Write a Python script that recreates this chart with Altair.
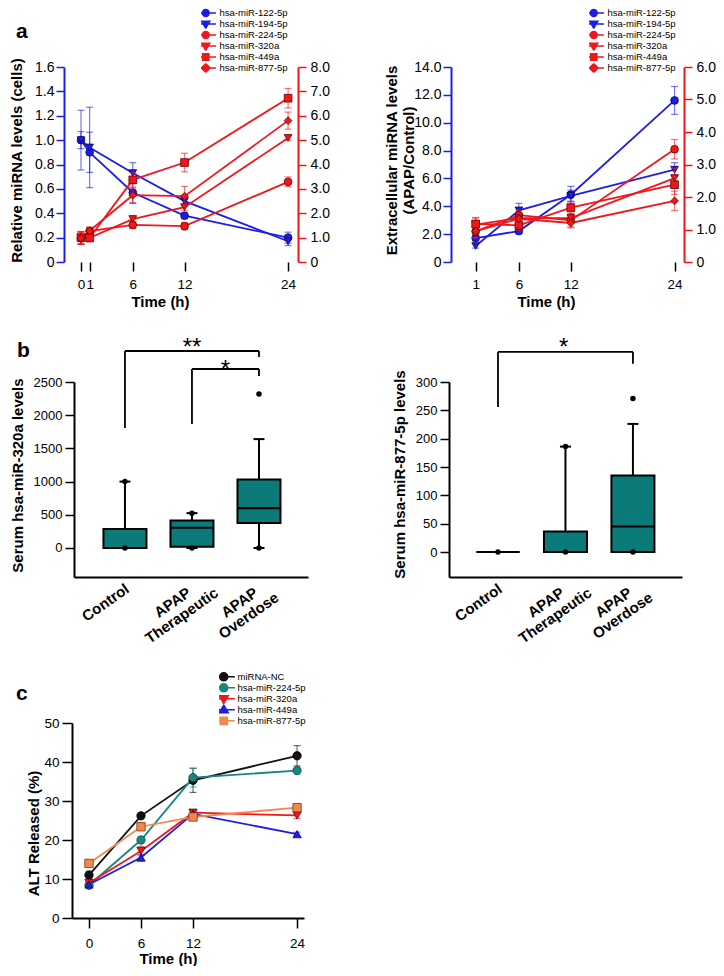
import altair as alt
import pandas as pd

FONT = "Liberation Sans"
BLUE, BLUE_D = "#1c1ee6", "#0b0b60"
RED, RED_D = "#f0171b", "#6a0000"
TEAL_BOX = "#0a7b78"

# ---------------- panel a (left): miRNA in cells ----------------
a1_time = [0, 1, 6, 12, 24]
a1_122 = [1.00, 0.90, 0.57, 0.38, 0.20]
a1_122_err = [0.07, 0.165, 0.09, 0.02, 0.045]
a1_194 = [1.00, 0.94, 0.73, 0.50, 0.17]
a1_194_err = [0.245, 0.33, 0.085, 0.03, 0.035]
a1_224 = [0.97, 1.27, 1.52, 1.47, 3.29]
a1_224_err = [0.25, 0.15, 0.15, 0.15, 0.20]
a1_320 = [1.00, 0.99, 1.76, 2.25, 5.09]
a1_320_err = [0.25, 0.15, 0.15, 0.15, 0.10]
a1_449 = [1.00, 0.99, 3.37, 4.08, 6.72]
a1_449_err = [0.25, 0.15, 0.30, 0.38, 0.40]
a1_877 = [0.97, 1.28, 2.74, 2.70, 5.80]
a1_877_err = [0.25, 0.15, 0.30, 0.40, 0.35]

# ---------------- panel a (right): extracellular ----------------
a2_time = [1, 6, 12, 24]
a2_122 = [1.72, 2.22, 4.83, 11.6]
a2_122_err = [0.20, 0.20, 0.60, 1.00]
a2_194 = [1.15, 3.71, 4.75, 6.63]
a2_194_err = [0.15, 0.50, 0.40, 0.50]
a2_224 = [0.94, 1.44, 1.28, 3.47]
a2_224_err = [0.20, 0.15, 0.20, 0.30]
a2_320 = [1.15, 1.35, 1.35, 2.58]
a2_320_err = [0.20, 0.15, 0.15, 0.30]
a2_449 = [1.17, 1.13, 1.67, 2.38]
a2_449_err = [0.20, 0.15, 0.20, 0.30]
a2_877 = [0.95, 1.33, 1.20, 1.88]
a2_877_err = [0.20, 0.15, 0.15, 0.30]

a_series = ["hsa-miR-122-5p", "hsa-miR-194-5p", "hsa-miR-224-5p",
            "hsa-miR-320a", "hsa-miR-449a", "hsa-miR-877-5p"]
a1_ticks = [0, 1, 6, 12, 24]
a2_ticks = [1, 6, 12, 24]
a1_left_ticks = [0, 0.2, 0.4, 0.6, 0.8, 1.0, 1.2, 1.4, 1.6]
a1_right_ticks = [0, 1, 2, 3, 4, 5, 6, 7, 8]
a2_left_ticks = [0, 2, 4, 6, 8, 10, 12, 14]
a2_right_ticks = [0, 1, 2, 3, 4, 5, 6]

# ---------------- panel b: serum box plots ----------------
b_idx = [0, 1, 2]
b1_min = [0, 0, 0]
b1_q1 = [0, 20, 375]
b1_med = [0, 305, 600]
b1_q3 = [285, 415, 1030]
b1_max = [1000, 525, 1640]
b1_dot_idx = [0, 0, 1, 1, 2, 2]
b1_dot_val = [0, 1000, 0, 525, 0, 2320]
b1_br_x1 = [0, 1]
b1_br_x2 = [2, 2]
b1_br_top = [2967, 2696]
b1_br_left = [1807, 1867]
b1_br_right = [2876, 2590]
b1_br_label = ["**", "*"]
b1_br_tx = [1.0, 1.5]
b1_br_ty = [2907, 2575]
b1_ticks = [0, 500, 1000, 1500, 2000, 2500]

b2_min = [0, 0, 0]
b2_q1 = [0, 0, 0]
b2_med = [0, 0, 45]
b2_q3 = [0, 36, 135]
b2_max = [0, 186, 226]
b2_dot_idx = [0, 1, 1, 2, 2]
b2_dot_val = [0, 0, 186, 0, 271]
b2_br_x1 = [0]
b2_br_x2 = [2]
b2_br_top = [353]
b2_br_left = [256]
b2_br_right = [332]
b2_br_label = ["*"]
b2_br_tx = [0.975]
b2_br_ty = [348]
b2_ticks = [0, 50, 100, 150, 200, 250, 300]

# ---------------- panel c: ALT release ----------------
c_time = [0, 6, 12, 24]
c_nc = [11.0, 26.2, 35.3, 41.6]
c_nc_err = [1.0, 0.5, 3.1, 2.6]
c_224 = [8.4, 20.0, 36.0, 37.8]
c_224_err = [0.5, 0.8, 2.4, 0.8]
c_320 = [9.0, 17.2, 27.0, 26.3]
c_320_err = [0.6, 1.2, 0.5, 0.8]
c_449 = [8.6, 15.5, 26.7, 21.5]
c_449_err = [0.5, 0.8, 0.5, 0.5]
c_877 = [14.0, 23.4, 25.9, 28.3]
c_877_err = [0.5, 1.0, 0.5, 1.0]
c_series = ["miRNA-NC", "hsa-miR-224-5p", "hsa-miR-320a", "hsa-miR-449a", "hsa-miR-877-5p"]
c_ticks_x = [0, 6, 12, 24]
c_ticks_y = [0, 10, 20, 30, 40, 50]

# ---------------- styles ----------------
a_colors = [BLUE, BLUE, RED, RED, RED, RED]
a_darks = [BLUE_D, BLUE_D, RED_D, RED_D, RED_D, RED_D]
a_shapes = ["circle", "triangle-down", "circle", "triangle-down", "square", "diamond"]
c_colors = ["#111111", "#17887e", RED, BLUE, "#f3874d"]
c_darks = ["#000000", "#0a4a44", RED_D, BLUE_D, "#7a3a12"]
c_shapes = ["circle", "circle", "triangle-down", "triangle-up", "square"]

PA_CIRC = "M-3.4,0H3.4M-1.15,0A1.15,1.15,0,1,0,1.15,0A1.15,1.15,0,1,0,-1.15,0Z"
PA_TDN = "M-3.4,0H3.4M-1.35,-0.9L1.35,-0.9L0,1.45Z"
PA_SQ = "M-3.4,0H3.4M-1.05,-1.05H1.05V1.05H-1.05Z"
PA_DIA = "M-3.4,0H3.4M0,-1.45L1.45,0L0,1.45L-1.45,0Z"
PC_CIRC = "M-3.7,0H3.7M-1.35,0A1.35,1.35,0,1,0,1.35,0A1.35,1.35,0,1,0,-1.35,0Z"
PC_TDN = "M-3.7,0H3.7M-1.5,-1L1.5,-1L0,1.6Z"
PC_TUP = "M-3.7,0H3.7M-1.5,1L1.5,1L0,-1.6Z"
PC_SQ = "M-3.7,0H3.7M-1.2,-1.2H1.2V1.2H-1.2Z"
a_paths = [PA_CIRC, PA_TDN, PA_CIRC, PA_TDN, PA_SQ, PA_DIA]
c_paths = [PC_CIRC, PC_CIRC, PC_TDN, PC_TUP, PC_SQ]

DEC_EXPR = "datum.value == 0 ? '0' : format(datum.value, '.1f')"
INDEP = dict(x="independent", y="independent", shape="independent",
             fill="independent", stroke="independent")


def sdf(time, vals, errs, name):
    return pd.DataFrame({
        "time": time, "value": vals,
        "lo": [v - e for v, e in zip(vals, errs)],
        "hi": [v + e for v, e in zip(vals, errs)],
        "series": name,
    })


def line_layers(df, names, colors, darks, shapes, xsc, ysc, xaxis, yaxis, psize, lw, cap):
    errs, lines, pts = [], [], []
    X = alt.X("time:Q", scale=xsc, axis=xaxis)
    for i, n in enumerate(names):
        base = alt.Chart(df).transform_filter(alt.datum.series == n)
        c, d, s = colors[i], darks[i], shapes[i]
        errs.append(base.mark_rule(color=c, strokeWidth=1.2, opacity=0.6).encode(
            x=X, y=alt.Y("lo:Q", scale=ysc, axis=yaxis), y2="hi:Q"))
        for f in ("lo", "hi"):
            errs.append(base.mark_tick(orient="horizontal", color=c, size=cap, thickness=1.2,
                                       opacity=0.6).encode(
                x=X, y=alt.Y(f"{f}:Q", scale=ysc, axis=yaxis)))
        lines.append(base.mark_line(color=c, strokeWidth=lw).encode(
            x=X, y=alt.Y("value:Q", scale=ysc, axis=yaxis)))
        pts.append(base.mark_point(shape=s, filled=True, fill=c, stroke=d, strokeWidth=0.8,
                                   size=psize, opacity=1).encode(
            x=X, y=alt.Y("value:Q", scale=ysc, axis=yaxis)))
    return alt.layer(*errs, *lines, *pts)


def legend_layer(field, names, colors, paths, lx, ly, fs, rowh):
    leg = alt.Legend(orient="none", legendX=lx, legendY=ly, title=None, labelFont=FONT,
                     labelFontSize=fs, labelColor="black", labelOffset=9, symbolSize=36,
                     symbolStrokeWidth=1.5, rowPadding=0, clipHeight=rowh, padding=0,
                     labelLimit=300)
    df = pd.DataFrame({field: names})
    return alt.Chart(df).transform_filter("false").mark_point(
        filled=True, opacity=1, strokeWidth=1.5).encode(
        shape=alt.Shape(f"{field}:N", scale=alt.Scale(domain=names, range=paths), legend=leg),
        fill=alt.Fill(f"{field}:N", scale=alt.Scale(domain=names, range=colors), legend=leg),
        stroke=alt.Stroke(f"{field}:N", scale=alt.Scale(domain=names, range=colors), legend=leg),
    )


def letter(ch, dx, dy):
    return alt.Chart(pd.DataFrame({"t": [ch]})).mark_text(
        font=FONT, fontSize=21, fontWeight="bold", align="left", baseline="alphabetic",
        color="black").encode(text="t:N", x=alt.value(dx), y=alt.value(dy))


def frame(l, t, r, b):
    # invisible box fixing the top-left extent of the figure
    return alt.Chart(pd.DataFrame({"f": [0]})).mark_rect(opacity=0).encode(
        x=alt.value(l), x2=alt.value(r), y=alt.value(t), y2=alt.value(b))


def time_axis(vals, tx, ty, tick, pad, domain):
    return alt.Axis(values=vals, format="d", domain=domain, domainColor="black", domainWidth=2,
                    ticks=True, tickColor="black", tickWidth=1.5, tickSize=tick,
                    labelFontSize=13.5, labelPadding=pad, labelOverlap=False, labelFlush=False,
                    grid=False, title="Time (h)", titleFontSize=15, titleFontWeight="bold",
                    titleX=tx, titleY=ty, titleBaseline="middle", orient="bottom")


def val_axis(vals, orient, color, title, tx=0, ty=0, expr=None, fmt="d", fs=14, tick=8, pad=2,
             offset=0):
    kw = dict(values=vals, orient=orient, offset=offset, domainColor=color, domainWidth=2,
              tickColor=color, tickWidth=1.5, tickSize=tick, labelFontSize=fs,
              labelPadding=pad, labelColor="black", grid=False, labelFlush=False,
              labelOverlap=False)
    if expr:
        kw["labelExpr"] = expr
    else:
        kw["format"] = fmt
    if title:
        kw.update(title=title, titleFontSize=15, titleFontWeight="bold", titleX=tx, titleY=ty,
                  titleBaseline="middle")
    else:
        kw["title"] = None
    return alt.Axis(**kw)


# ================= row a: two dual-axis line charts in one view =================
A_W, A_H = 620, 195
a1_df = pd.concat([sdf(a1_time, v, e, n) for v, e, n in zip(
    [a1_122, a1_194, a1_224, a1_320, a1_449, a1_877],
    [a1_122_err, a1_194_err, a1_224_err, a1_320_err, a1_449_err, a1_877_err], a_series)])
a2_df = pd.concat([sdf(a2_time, v, e, n) for v, e, n in zip(
    [a2_122, a2_194, a2_224, a2_320, a2_449, a2_877],
    [a2_122_err, a2_194_err, a2_224_err, a2_320_err, a2_449_err, a2_877_err], a_series)])

xs_a1 = alt.Scale(domain=[-1.97, 25.15], range=[0, 234], nice=False, zero=False)
yl_a1 = alt.Scale(domain=[0, 1.6], nice=False, zero=False)
yr_a1 = alt.Scale(domain=[0, 8], nice=False, zero=False)
xs_a2 = alt.Scale(domain=[-1.85, 25.09], range=[387, 620], nice=False, zero=False)
yl_a2 = alt.Scale(domain=[0, 14], nice=False, zero=False)
yr_a2 = alt.Scale(domain=[0, 6], nice=False, zero=False)

a1_blue = line_layers(a1_df, a_series[:2], a_colors[:2], a_darks[:2], a_shapes[:2], xs_a1, yl_a1,
                      time_axis(a1_ticks, 96, 39, 9, 6, False),
                      val_axis(a1_left_ticks, "left", BLUE, "Relative miRNA levels (cells)",
                               -48, 93, expr=DEC_EXPR), 60, 1.8, 7)
a1_red = line_layers(a1_df, a_series[2:], a_colors[2:], a_darks[2:], a_shapes[2:], xs_a1, yr_a1,
                     None, val_axis(a1_right_ticks, "right", RED, None, expr=DEC_EXPR, pad=4,
                                    offset=-(A_W - 234)), 60, 1.8, 7)
a2_blue = line_layers(a2_df, a_series[:2], a_colors[:2], a_darks[:2], a_shapes[:2], xs_a2, yl_a2,
                      time_axis(a2_ticks, 387 + 95, 39, 9, 6, False),
                      val_axis(a2_left_ticks, "left", BLUE,
                               ["Extracellular miRNA levels", "(APAP/Control)"], -60, 93,
                               expr=DEC_EXPR, offset=-387), 60, 1.8, 7)
a2_red = line_layers(a2_df, a_series[2:], a_colors[2:], a_darks[2:], a_shapes[2:], xs_a2, yr_a2,
                     None, val_axis(a2_right_ticks, "right", RED, None, expr=DEC_EXPR, pad=4),
                     60, 1.8, 7)
row_a = alt.layer(
    a1_blue, a1_red, a2_blue, a2_red,
    legend_layer("series_a1", a_series, a_colors, a_paths, 137, -58.7, 9.5, 9.4),
    legend_layer("series_a2", a_series, a_colors, a_paths, 387 + 138, -58.7, 9.5, 9.4),
    letter("a", -48, -29),
    frame(-55, -59, 0, 0),
).resolve_scale(**INDEP).properties(width=A_W, height=A_H)

# ================= row b: two box plots in one view =================
B_W, B_H, B_PH = 618, 221, 195
B_XLABELS = ("datum.value == 0 ? 'Control' : datum.value == 1 ? ['APAP', 'Therapeutic'] "
             ": ['APAP', 'Overdose']")
B_XAXIS = alt.Axis(values=b_idx, labelExpr=B_XLABELS, orient="bottom", offset=-(B_H - B_PH),
                   domain=True, domainColor="black", domainWidth=2, ticks=False, tickSize=0,
                   grid=False, labelAngle=325, labelAlign="center", labelBaseline="middle",
                   labelOffset=-20, labelPadding=25, labelFontSize=15, labelFontWeight="bold",
                   labelLineHeight=16, labelOverlap=False, labelFlush=False, title=None)


def box_panel(mins, q1, med, q3, maxs, d_idx, d_val, bx1, bx2, btop, bl, br, blab, btx, bty,
              xsc, ysc, yaxis):
    dfb = pd.DataFrame({"idx": b_idx, "min": mins, "q1": q1, "med": med, "q3": q3, "max": maxs})
    dfd = pd.DataFrame({"idx": d_idx, "val": d_val})
    dfr = pd.DataFrame({"x1": bx1, "x2": bx2, "ytop": btop, "yl": bl, "yr": br,
                        "label": blab, "tx": btx, "ty": bty})

    def X(f):
        return alt.X(f"{f}:Q", scale=xsc, axis=B_XAXIS)

    def Y(f):
        return alt.Y(f"{f}:Q", scale=ysc, axis=yaxis)

    box = alt.Chart(dfb).mark_bar(size=43, fill=TEAL_BOX, stroke="black", strokeWidth=2,
                                  opacity=1).encode(x=X("idx"), y=Y("q1"), y2="q3:Q")
    w_hi = alt.Chart(dfb).mark_rule(color="black", strokeWidth=2).encode(
        x=X("idx"), y=Y("q3"), y2="max:Q")
    w_lo = alt.Chart(dfb).mark_rule(color="black", strokeWidth=2).encode(
        x=X("idx"), y=Y("min"), y2="q1:Q")
    cap_hi = alt.Chart(dfb).mark_tick(orient="horizontal", size=11, thickness=2,
                                      color="black", opacity=1).encode(x=X("idx"), y=Y("max"))
    cap_lo = alt.Chart(dfb).mark_tick(orient="horizontal", size=11, thickness=2,
                                      color="black", opacity=1).encode(x=X("idx"), y=Y("min"))
    medl = alt.Chart(dfb).mark_tick(orient="horizontal", size=43, thickness=2.2,
                                    color="black", opacity=1).encode(x=X("idx"), y=Y("med"))
    dots = alt.Chart(dfd).mark_circle(size=30, color="black", opacity=1).encode(
        x=X("idx"), y=Y("val"))
    br_h = alt.Chart(dfr).mark_rule(color="black", strokeWidth=1.8).encode(
        x=X("x1"), x2="x2:Q", y=Y("ytop"))
    br_l = alt.Chart(dfr).mark_rule(color="black", strokeWidth=1.8).encode(
        x=X("x1"), y=Y("ytop"), y2="yl:Q")
    br_r = alt.Chart(dfr).mark_rule(color="black", strokeWidth=1.8).encode(
        x=X("x2"), y=Y("ytop"), y2="yr:Q")
    br_t = alt.Chart(dfr).mark_text(font=FONT, fontSize=24, baseline="alphabetic",
                                    align="center", color="black").encode(
        x=X("tx"), y=Y("ty"), text="label:N")
    return alt.layer(w_hi, w_lo, box, medl, cap_hi, cap_lo, dots, br_h, br_l, br_r, br_t)


xs_b1 = alt.Scale(domain=[-0.686, 2.657], range=[10, 244], nice=False, zero=False)
ys_b1 = alt.Scale(domain=[-437, 2500], range=[B_PH, 0], nice=False, zero=False)
xs_b2 = alt.Scale(domain=[-0.652, 2.653], range=[385, 618], nice=False, zero=False)
ys_b2 = alt.Scale(domain=[-44.1, 300], range=[B_PH, 0], nice=False, zero=False)
b1 = box_panel(b1_min, b1_q1, b1_med, b1_q3, b1_max, b1_dot_idx, b1_dot_val, b1_br_x1, b1_br_x2,
               b1_br_top, b1_br_left, b1_br_right, b1_br_label, b1_br_tx, b1_br_ty, xs_b1, ys_b1,
               val_axis(b1_ticks, "left", "black", "Serum hsa-miR-320a levels", -57, 93,
                        fs=13, tick=9, pad=3, offset=-10))
b2 = box_panel(b2_min, b2_q1, b2_med, b2_q3, b2_max, b2_dot_idx, b2_dot_val, b2_br_x1, b2_br_x2,
               b2_br_top, b2_br_left, b2_br_right, b2_br_label, b2_br_tx, b2_br_ty, xs_b2, ys_b2,
               val_axis(b2_ticks, "left", "black", "Serum hsa-miR-877-5p levels", -50, 92,
                        fs=13, tick=9, pad=3, offset=-385))
row_b = alt.layer(b1, b2, letter("b", -47, -25)).resolve_scale(
    x="independent", y="independent").properties(width=B_W, height=B_H)

# ================= row c: ALT line chart =================
c_df = pd.concat([sdf(c_time, v, e, n) for v, e, n in zip(
    [c_nc, c_224, c_320, c_449, c_877],
    [c_nc_err, c_224_err, c_320_err, c_449_err, c_877_err], c_series)])
xs_c = alt.Scale(domain=[-1.96, 24.8], range=[8, 240], nice=False, zero=False)
ys_c = alt.Scale(domain=[0, 50], nice=False, zero=False)
c_lines = line_layers(c_df, c_series, c_colors, c_darks, c_shapes, xs_c, ys_c,
                      time_axis(c_ticks_x, 8 + 96, 40, 10, 8, True),
                      val_axis(c_ticks_y, "left", "black", "ALT Released (%)", -39, 110,
                               fs=13.5, tick=10, pad=3, offset=-8), 70, 1.8, 7)
row_c = alt.layer(
    c_lines,
    legend_layer("series_c", c_series, c_colors, c_paths, 8 + 147, -51.7, 9.5, 11),
    letter("c", -48, -23),
).properties(width=240, height=195)

chart = alt.vconcat(row_a, row_b, row_c, spacing=120, bounds="flush").resolve_scale(
    shape="independent", fill="independent", stroke="independent"
).properties(padding=0).configure(font=FONT).configure_view(stroke=None).configure_axis(
    labelFont=FONT, titleFont=FONT, labelColor="black", titleColor="black")

chart.save("out.html", embed_options={"renderer": "svg", "actions": False})
